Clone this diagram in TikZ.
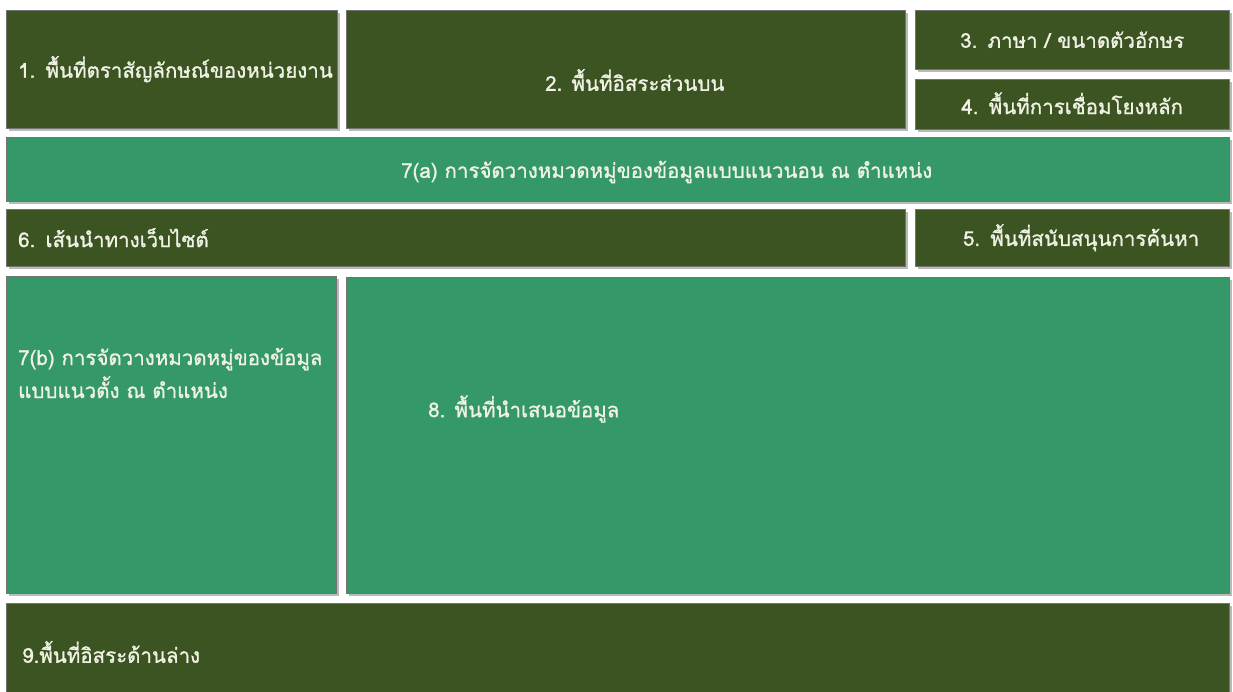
\documentclass[tikz,border=0pt]{standalone}
\usepackage{fontspec}
\setmainfont[Script=Thai,FakeBold=1.1]{Loma}
\usetikzlibrary{shadows}
\definecolor{darkg}{RGB}{59,84,34}
\definecolor{midg}{RGB}{52,152,104}
\definecolor{txt}{RGB}{240,242,228}
\tikzset{
  box/.style={rectangle, anchor=north west, inner xsep=12pt, inner ysep=0pt,
    text=txt, font=\fontsize{20.5}{33}\selectfont, draw=black!55, line width=0.4pt,
    drop shadow={shadow xshift=3pt, shadow yshift=-3pt, fill=black!45, opacity=0.6}},
  dk/.style={box, fill=darkg},
  md/.style={box, fill=midg},
  lbl/.style={anchor=west, inner sep=0pt, text=txt, font=\fontsize{20.5}{33}\selectfont, align=left},
}
\begin{document}
\begin{tikzpicture}[x=1pt,y=-1pt]
\useasboundingbox[fill=white] (0,0) rectangle (1233,692);
% row 1
\node[dk, minimum width=331pt, minimum height=118pt, text width=307pt, align=left] (b1) at (6,10) {\mbox{1. พื้นที่ตราสัญลักษณ์ของหน่วยงาน}};
\node[dk, minimum width=559pt, minimum height=118pt] (b2) at (346,10) {};
\node[lbl] (t2) at (545,80) {2. พื้นที่อิสระส่วนบน};
\node[dk, minimum width=314pt, minimum height=59pt, text width=290pt, align=center] (b3) at (915,10) {3. ภาษา / ขนาดตัวอักษร};
\node[dk, minimum width=314pt, minimum height=50pt, text width=290pt, align=center] (b4) at (915,79) {\raisebox{2pt}{4. พื้นที่การเชื่อมโยงหลัก}};
% row 2
\node[md, minimum width=1223pt, minimum height=64pt] (b7a) at (6,137) {};
\node[lbl] (t7a) at (401,172) {7(a) การจัดวางหมวดหมู่ของข้อมูลแบบแนวนอน ณ ตำแหน่ง};
% row 3
\node[dk, minimum width=899pt, minimum height=57pt, text width=875pt, align=left] (b6) at (6,209) {6. เส้นนำทางเว็บไซต์};
\node[dk, minimum width=314pt, minimum height=57pt, inner xsep=0pt, text width=314pt, align=right] (b5) at (915,209) {5. พื้นที่สนับสนุนการค้นหา\hspace*{30pt}};
% row 4
\node[md, minimum width=330pt, minimum height=317pt] (b7b) at (6,276) {};
\node[lbl] (t7b) at (18,373) {7(b) การจัดวางหมวดหมู่ของข้อมูล\\แบบแนวตั้ง ณ ตำแหน่ง};
\node[md, minimum width=883pt, minimum height=316pt] (b8) at (346,277) {};
\node[lbl] (t8) at (428,409) {8. พื้นที่นำเสนอข้อมูล};
% row 5
\node[dk, minimum width=1223pt, minimum height=98pt] (b9) at (6,603) {};
\node[lbl] (t9) at (22,652) {9.พื้นที่อิสระด้านล่าง};
\end{tikzpicture}
\end{document}
